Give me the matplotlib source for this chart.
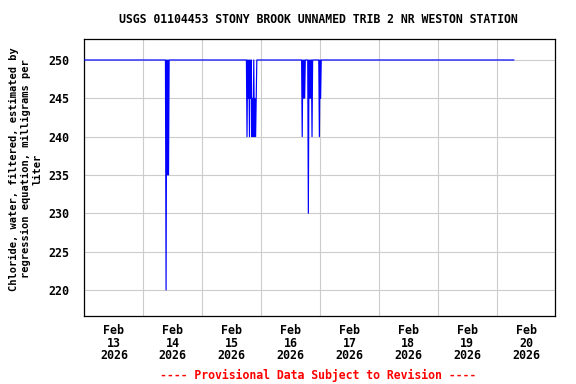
import matplotlib
matplotlib.use("Agg")
import matplotlib.pyplot as plt
import pandas as pd

title = "USGS 01104453 STONY BROOK UNNAMED TRIB 2 NR WESTON STATION"
ylabel = "Chloride, water, filtered, estimated by\nregression equation, milligrams per\nliter"
footer = "---- Provisional Data Subject to Revision ----"

times = [
    "2026-02-13 00:00",
    "2026-02-14 09:00", "2026-02-14 09:15", "2026-02-14 09:30", "2026-02-14 09:45", "2026-02-14 10:00",
    "2026-02-14 10:15", "2026-02-14 10:30",
    "2026-02-15 18:00", "2026-02-15 18:15", "2026-02-15 18:30", "2026-02-15 18:45", "2026-02-15 19:00",
    "2026-02-15 19:15", "2026-02-15 19:30", "2026-02-15 19:45", "2026-02-15 20:00", "2026-02-15 20:15",
    "2026-02-15 20:30", "2026-02-15 20:45", "2026-02-15 21:00", "2026-02-15 21:15", "2026-02-15 21:30",
    "2026-02-15 21:45", "2026-02-15 22:00", "2026-02-15 22:15",
    "2026-02-16 16:30", "2026-02-16 16:45", "2026-02-16 17:00", "2026-02-16 17:15", "2026-02-16 17:30",
    "2026-02-16 17:45", "2026-02-16 18:00",
    "2026-02-16 19:00", "2026-02-16 19:15", "2026-02-16 19:30", "2026-02-16 19:45", "2026-02-16 20:00",
    "2026-02-16 20:15", "2026-02-16 20:30", "2026-02-16 20:45", "2026-02-16 21:00",
    "2026-02-16 23:30", "2026-02-16 23:45", "2026-02-17 00:00", "2026-02-17 00:15", "2026-02-17 00:30",
    "2026-02-20 07:00",
]
values = [
    250,
    250, 220, 250, 235, 250,
    235, 250,
    250, 240, 250, 245, 250,
    240, 250, 245, 250, 240,
    245, 240, 250, 240, 245,
    240, 245, 250,
    250, 240, 250, 245, 250,
    245, 250,
    250, 230, 250, 245, 250,
    245, 250, 240, 250,
    250, 240, 250, 245, 250,
    250,
]
yticks = [220, 225, 230, 235, 240, 245, 250]
day_labels = ["Feb\n13\n2026", "Feb\n14\n2026", "Feb\n15\n2026", "Feb\n16\n2026",
              "Feb\n17\n2026", "Feb\n18\n2026", "Feb\n19\n2026", "Feb\n20\n2026"]

plt.rcParams['font.family'] = ['DejaVu Sans Mono']
plt.rcParams['font.weight'] = 'bold'

fig = plt.figure(figsize=(5.76, 3.84), dpi=100)
ax = fig.add_axes([0.1467, 0.1771, 0.8177, 0.7206])

t = pd.to_datetime(times)
ax.plot(t, values, color="#0000ff", linewidth=0.85, zorder=3)

start = pd.Timestamp("2026-02-13")
ax.set_xlim(start, start + pd.Timedelta(days=8))
ax.set_ylim(216.6, 252.7)

noon = [start + pd.Timedelta(days=i, hours=12) for i in range(8)]
midnight = [start + pd.Timedelta(days=i) for i in range(1, 8)]
ax.set_xticks(noon)
ax.set_xticklabels(day_labels, fontsize=8.4, fontweight='bold', linespacing=0.95)
ax.set_xticks(midnight, minor=True)
ax.set_yticks(yticks)
ax.set_yticklabels([str(v) for v in yticks], fontsize=8.4, fontweight='bold')

ax.tick_params(axis='both', which='both', length=0)
ax.tick_params(axis='x', pad=6)
ax.tick_params(axis='y', pad=11)
ax.grid(True, axis='y', which='major', color='#cccccc', linewidth=0.8)
ax.grid(True, axis='x', which='minor', color='#cccccc', linewidth=0.8)
ax.grid(False, axis='x', which='major')
for s in ax.spines.values():
    s.set_linewidth(0.9)
    s.set_color('black')

fig.text(0.552, 0.948, title, ha='center', va='center', fontsize=8.3, fontweight='bold')
fig.text(0.045, 0.56, ylabel, ha='center', va='center', rotation=90, fontsize=7.5,
         fontweight='bold', multialignment='center', linespacing=1.2)
fig.text(0.552, 0.023, footer, ha='center', va='center', fontsize=8.3, fontweight='bold', color='red')

fig.savefig("out.png", dpi=100)
